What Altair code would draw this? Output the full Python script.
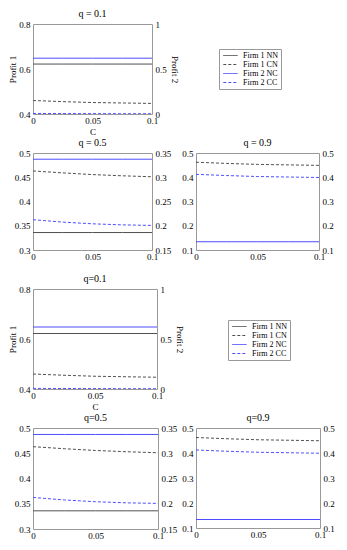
import altair as alt
import pandas as pd

# ---------------- data ----------------
C_VALUES = [0, 0.025, 0.05, 0.075, 0.1]
SERIES = ["Firm 1 NN", "Firm 1 CN", "Firm 2 NC", "Firm 2 CC"]
FIRM_OF = {"Firm 1 NN": 1, "Firm 1 CN": 1, "Firm 2 NC": 2, "Firm 2 CC": 2}

# q = 0.1  (Profit 1 axis 0.4-0.8, Profit 2 axis 0-1)
q01_f1_nn = [0.622, 0.622, 0.622, 0.622, 0.622]
q01_f1_cn = [0.460, 0.455, 0.451, 0.449, 0.447]
q01_f2_nc = [0.620, 0.620, 0.620, 0.620, 0.620]
q01_f2_cc = [0.006, 0.005, 0.004, 0.003, 0.003]

# q = 0.5  (Profit 1 axis 0.3-0.5, Profit 2 axis 0.15-0.35)
q05_f1_nn = [0.336, 0.336, 0.336, 0.336, 0.336]
q05_f1_cn = [0.4630, 0.4590, 0.4555, 0.4530, 0.4510]
q05_f2_nc = [0.3372, 0.3372, 0.3372, 0.3372, 0.3372]
q05_f2_cc = [0.2125, 0.2075, 0.2040, 0.2018, 0.2007]

# q = 0.9  (Profit 1 axis 0.1-0.5, Profit 2 axis 0.1-0.5)
q09_f1_cn = [0.462, 0.457, 0.453, 0.451, 0.449]
q09_f2_nc = [0.134, 0.134, 0.134, 0.134, 0.134]
q09_f2_cc = [0.412, 0.407, 0.403, 0.401, 0.399]

X_TICKS = [0, 0.05, 0.1]
Y1_TICKS = {"0.1": [0.4, 0.6, 0.8], "0.5": [0.3, 0.35, 0.4, 0.45, 0.5], "0.9": [0.1, 0.2, 0.3, 0.4, 0.5]}
Y2_TICKS = {"0.1": [0, 0.5, 1], "0.5": [0.15, 0.2, 0.25, 0.3, 0.35], "0.9": [0.1, 0.2, 0.3, 0.4, 0.5]}
Y1_DOMAIN = {"0.1": [0.4, 0.8], "0.5": [0.3, 0.5], "0.9": [0.1, 0.5]}
Y2_DOMAIN = {"0.1": [0, 1], "0.5": [0.15, 0.35], "0.9": [0.1, 0.5]}

PANELS = {
    "0.1": {"Firm 1 NN": q01_f1_nn, "Firm 1 CN": q01_f1_cn, "Firm 2 NC": q01_f2_nc, "Firm 2 CC": q01_f2_cc},
    "0.5": {"Firm 1 NN": q05_f1_nn, "Firm 1 CN": q05_f1_cn, "Firm 2 NC": q05_f2_nc, "Firm 2 CC": q05_f2_cc},
    "0.9": {"Firm 1 CN": q09_f1_cn, "Firm 2 NC": q09_f2_nc, "Firm 2 CC": q09_f2_cc},
}

rows = []
for q, series_map in PANELS.items():
    for s, vals in series_map.items():
        for c, v in zip(C_VALUES, vals):
            rows.append({"q": q, "series": s, "firm": FIRM_OF[s], "C": c, "value": v})
df = pd.DataFrame(rows)

# ---------------- styling ----------------
FONT = "Liberation Serif"
GRAY = "#505050"
BLUE = "#4d4dff"
COLOR_SCALE = alt.Scale(domain=SERIES, range=[GRAY, GRAY, BLUE, BLUE])
DASH_SCALE = alt.Scale(domain=SERIES, range=[[1, 0], [3, 2], [1, 0], [3, 2]])


def panel(q, title, w, h, show_titles, legend_xy):
    d = df[df["q"] == q]
    base = alt.Chart(d)
    x_axis = alt.Axis(values=X_TICKS, format="~g", labelPadding=2, titlePadding=2,
                      title="C" if show_titles else None)
    x = alt.X("C:Q", scale=alt.Scale(domain=[0, 0.1], nice=False, zero=False), axis=x_axis)

    if legend_xy is not None:
        leg = alt.Legend(orient="none", legendX=legend_xy[0], legendY=legend_xy[1], title=None,
                         symbolType="M-1.8,0H1.8", symbolSize=64, symbolStrokeWidth=1,
                         symbolOffset=5, labelOffset=8,
                         labelFont=FONT, labelFontSize=8, labelColor="black",
                         strokeColor="#999999", fillColor="white", padding=2, rowPadding=0)
    else:
        leg = None

    color = alt.Color("series:N", scale=COLOR_SCALE, legend=leg)
    dash = alt.StrokeDash("series:N", scale=DASH_SCALE, legend=leg)

    left = base.transform_filter(alt.datum.firm == 1).mark_line(strokeWidth=1, clip=True).encode(
        x=x,
        y=alt.Y("value:Q", scale=alt.Scale(domain=Y1_DOMAIN[q], nice=False, zero=False),
                axis=alt.Axis(orient="left", values=Y1_TICKS[q], format="~g", titlePadding=1,
                              title="Profit 1" if show_titles else None)),
        color=color, strokeDash=dash,
    )
    right = base.transform_filter(alt.datum.firm == 2).mark_line(strokeWidth=1, clip=True).encode(
        x=x,
        y=alt.Y("value:Q", scale=alt.Scale(domain=Y2_DOMAIN[q], nice=False, zero=False),
                axis=alt.Axis(orient="right", values=Y2_TICKS[q], format="~g", titlePadding=3,
                              title="Profit 2" if show_titles else None)),
        color=color, strokeDash=dash,
    )
    return alt.layer(left, right).resolve_scale(y="independent").properties(
        title=title, width=w, height=h)


def placeholder(w, h):
    return alt.Chart(pd.DataFrame({"C": [0]})).mark_point(opacity=0).encode(
        x=alt.X("C:Q", axis=None), y=alt.Y("C:Q", axis=None)
    ).properties(width=w, height=h, view=alt.ViewBackground(stroke="transparent"))


cells = [
    panel("0.1", "q = 0.1", 119, 90, True, (186, 25)),
    placeholder(10, 90),
    panel("0.5", "q = 0.5", 119, 97, False, None),
    panel("0.9", "q = 0.9", 123, 97, False, None),
    panel("0.1", "q=0.1", 124, 100, True, (195, 31)),
    placeholder(10, 100),
    panel("0.5", "q=0.5", 125, 101, False, None),
    panel("0.9", "q=0.9", 124, 100, False, None),
]

chart = alt.concat(*cells, columns=2, spacing={"row": 39, "column": 38}, bounds="flush",
                   align="none").resolve_scale(
    color="independent", strokeDash="independent").resolve_legend(
    color="independent", strokeDash="independent").properties(padding=0).configure_view(
    stroke="#999999", strokeWidth=1).configure_axis(
    labelFont=FONT, labelFontSize=9, labelColor="black",
    titleFont=FONT, titleFontSize=9, titleFontWeight="normal", titleColor="black",
    grid=False, domain=False, ticks=False, labelPadding=3,
    labelFlush=False, labelOverlap=False, labelBound=False).configure_title(
    font=FONT, fontSize=10, fontWeight="normal", color="black", offset=1, anchor="middle",
    frame="group")

chart.save("out.html", embed_options={"renderer": "svg", "actions": False})
